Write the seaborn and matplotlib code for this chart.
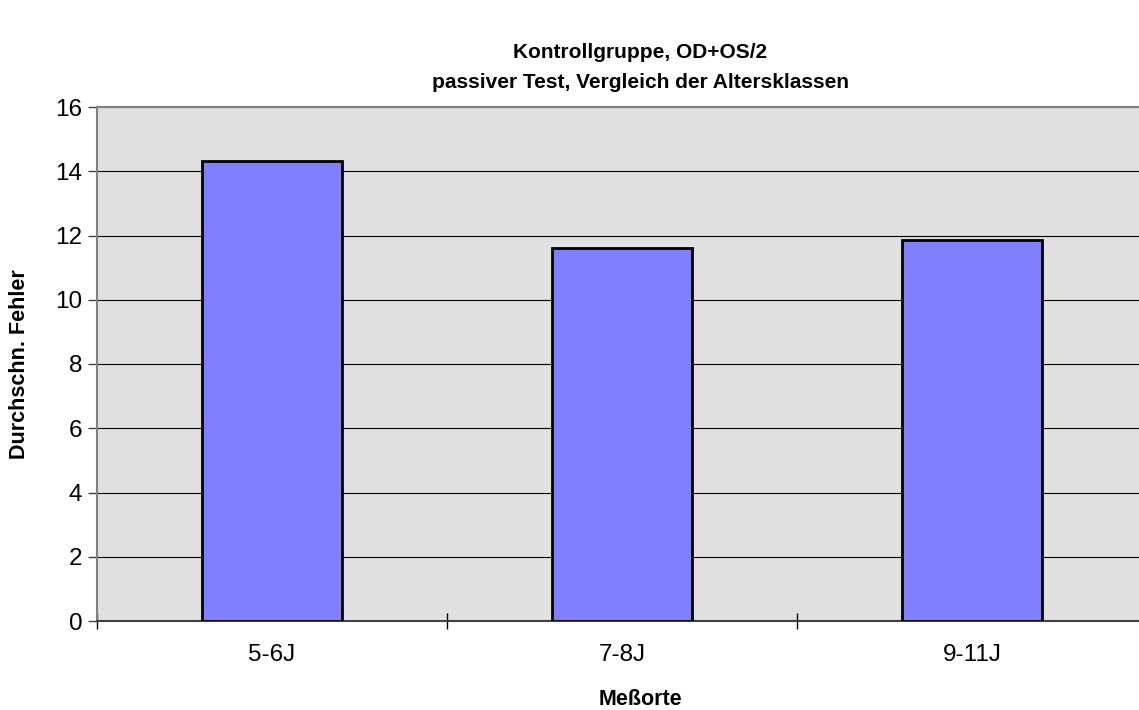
import matplotlib
matplotlib.use("Agg")
import matplotlib.pyplot as plt
import seaborn as sns
import pandas as pd

categories = ["5-6J", "7-8J", "9-11J"]
values = [14.32, 11.62, 11.86]

sns.set_style("white")
plt.rcParams['font.family'] = ['Liberation Sans', 'DejaVu Sans']
plt.rcParams['text.color'] = 'black'
plt.rcParams['axes.labelcolor'] = 'black'
plt.rcParams['xtick.color'] = 'black'
plt.rcParams['ytick.color'] = 'black'

df = pd.DataFrame({"Altersklasse": categories, "Fehler": values})

W, H = 1139, 710
fig = plt.figure(figsize=(W / 100, H / 100), dpi=100)
ax = fig.add_axes([97 / W, (H - 621) / H, (1147 - 97) / W, (621 - 107) / H])
ax.set_facecolor("#e0e0e0")

sns.barplot(data=df, x="Altersklasse", y="Fehler", color="#8080ff", width=0.4,
            edgecolor="black", linewidth=2, saturation=1, ax=ax)

ax.set_xlim(-0.5, 2.5)
ax.set_ylim(0, 16)
ax.set_yticks(range(0, 17, 2))
ax.yaxis.grid(True, color="black", linewidth=0.8)
ax.set_axisbelow(True)
for b in ax.patches:
    b.set_zorder(3)

ax.tick_params(axis='y', left=True, length=6.5, width=1, color="#404040",
               labelsize=17.5, pad=4)
ax.tick_params(axis='x', bottom=False, labelsize=17.5, pad=13)
ax.set_xticks([-0.5, 0.5, 1.5, 2.5], minor=True)
ax.tick_params(axis='x', which='minor', bottom=True, length=12, width=1,
               direction='inout', color="black")

for s in ["left", "top", "right"]:
    ax.spines[s].set_color("#808080")
    ax.spines[s].set_linewidth(1.5)
ax.spines["bottom"].set_color("#404040")
ax.spines["bottom"].set_linewidth(1.5)

axw = 1147 - 97
axh = 621 - 107
ax.set_xlabel("Meßorte", fontsize=15.5, fontweight="bold")
ax.xaxis.set_label_coords((640 - 97) / axw, -(689 - 621) / axh)
ax.set_ylabel("Durchschn. Fehler", fontsize=15.5, fontweight="bold")
ax.yaxis.set_label_coords(-(97 - 30) / axw, 0.5)

fig.text(640 / W, 1 - 58 / H, "Kontrollgruppe, OD+OS/2",
         ha="center", va="baseline", fontsize=15, fontweight="bold")
fig.text(640 / W, 1 - 88 / H, "passiver Test, Vergleich der Altersklassen",
         ha="center", va="baseline", fontsize=15, fontweight="bold")

fig.savefig("out.png", dpi=100)
